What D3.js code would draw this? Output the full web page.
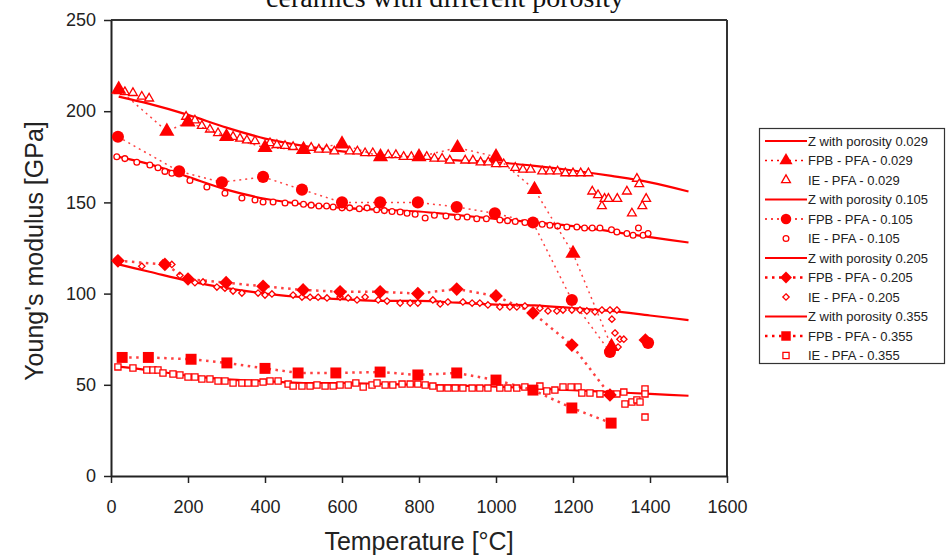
<!DOCTYPE html>
<html lang="en">
<head>
<meta charset="UTF-8">
<title>Young's modulus vs temperature</title>
<script src="https://d3js.org/d3.v7.min.js"></script>
<style>
body { margin: 0; background: white; }
svg { display: block; }
.tick text { font-family: Arial, "Liberation Sans", sans-serif; }
</style>
</head>
<body>
<div id="chart"></div>
<script>
// temperatures for the model curves
var zTemp = [20, 100, 200, 300, 400, 500, 600, 700, 800, 900, 1000, 1100, 1200, 1300, 1400, 1500];
var z029 = [208, 204, 198, 191, 185, 181, 178, 176, 174.5, 173, 172, 170, 167.5, 164.5, 161, 156];
var z105 = [175, 171, 164, 157, 152, 149, 147, 146, 145, 143, 141, 139, 137, 134, 131, 128];
var z205 = [116, 112, 107, 103, 100, 98, 97, 96, 96, 95, 94, 93.5, 92, 90.5, 88, 85.5];
var z355 = [60, 58, 55, 53, 52, 51, 51, 50.5, 50, 49.5, 49, 48, 47, 46, 45, 44];

// FPB - PFA (flexural, filled markers), null = break in the dotted line
var fpb029 = [[20,212],[145,189],[200,194],[300,186],[400,180],[500,179],[600,182],[700,175],[800,175],[900,180],[1000,175],[1100,157],[1200,122],[1300,71]];
var fpb105 = [[18,186],[177,167],[288,161],[395,164],[496,157],[600,150],[699,150],[797,150],[898,147.5],[997,144],[1096,139],[1197,96.5],[1296,68],null,[1395,73]];
var fpb205 = [[18,118],[140,116],[200,108],[299,106],[395,104],[499,102],[595,101],[699,101],[797,100],[898,102.5],[1000,98.7],[1096,89.4],[1197,71.8],[1296,44.4],null,[1388,74.5]];
var fpb355 = [[29,65],[97,65],[208,64],[301,62],[400,59],[486,56.5],[584,56.5],[699,57],[797,55.4],[898,56.5],[1000,52.6],[1096,47.1],[1197,37.3],[1299,29]];

// IE - PFA (impulse excitation, hollow markers)
var ie029 = [[20,211],[36,210.5],[57,210],[80,208],[99,207],[195,197],[218,195],[236,192],[257,190],[278,188],[317,186],[335,185],[353,184],[374,183.6],[413,182.5],[431,181.5],[452,181],[473,180.4],
  [520,180],[540,179],[560,179],[580,178],[620,178],[640,178],[660,177],[680,177],[720,176],[740,176],[760,175],[780,175],[820,175],[840,174],[860,174],[880,173],[920,173],[940,173],[960,172],[980,172],
  [1000,171],[1020,171],[1050,169],[1070,168],[1090,168],[1120,167],[1140,167],[1160,167],[1180,166],[1200,166],[1220,166],[1240,166],
  [1250,156],[1265,154],[1275,148],[1282,152],[1292,152],[1315,152],[1340,156],[1366,163],[1372,160],[1390,152],[1380,148],[1353,144]];
var ie105 = [[15,175],[36,174],[67,172],[101,170.5],[122,169],[140,167],[158,166],[205,162],[249,158.4],[296,155],[340,152.4],[374,151.3],[395,150.2],[421,150.2],[452,149.7],[478,149.7],
  [500,149],[520,148.5],[540,148],[560,148],[577,147.5],[600,147],[620,147],[645,146.5],[665,147],[690,146],[710,145.5],[730,145],[751,144.7],[769,144],[790,143.5],[816,141.4],[840,143],[870,142.5],[900,142],[925,142],
  [950,141],[975,141],[1010,140.3],[1030,140],[1050,139.5],[1075,139],[1096,138.7],[1120,138],[1140,137.5],[1160,137],[1184,136.5],[1210,136.5],[1230,136],[1250,136],[1270,136],[1300,135],[1314,133.8],[1340,133],[1356,132],[1370,136],[1382,132],[1395,133]];
var ie205 = [[18,116.8],[80,115],[135,116.8],[158,116],[179,110],[218,106],[239,106.4],[275,103.6],[296,103],[317,101.4],[340,100.3],[382,100.3],[400,99.2],[418,99.8],[473,99.2],[496,98.1],[517,98],[538,98],[561,97.6],
  [595,98.1],[616,97.6],[639,96.5],[660,98.1],[694,96.5],[717,95.9],[751,94.8],[777,94.8],[797,94.8],[836,96.5],[855,94.3],[875,95.4],[914,95.4],[938,94.8],[958,94.8],[979,93.8],[1010,92.7],[1036,92.7],[1054,92.7],[1075,93.2],
  [1114,92],[1135,90.5],[1158,90.5],[1174,91],[1197,91],[1218,91],[1236,90.5],[1257,90],[1275,91],[1296,91],[1314,91],
  [1301,86],[1309,78.4],[1322,75],[1332,75],[1317,70.7]];
var ie355 = [[18,59.8],[57,59.2],[93,58.1],[109,58.1],[122,58.1],[135,56.5],[161,55.9],[179,55.4],[200,54.3],[218,54.3],[236,53.2],[257,53.2],[278,52.1],[296,52.1],[317,51],[340,51],[356,51],[374,51],[395,51.5],[413,52.1],[434,52.1],
  [460,50.4],[473,49.3],[496,49.3],[517,49.3],[535,49.9],[556,49.3],[577,49.3],[595,49.9],[616,49.9],[636,51],[655,48.8],[678,49.9],[691,51],[712,49.9],[732,49.9],[756,50.4],[777,50.4],[797,50.4],
  [816,49.9],[836,49.3],[855,48.2],[875,48.2],[894,48.2],[914,48.2],[938,48.2],[958,48.2],[979,48.2],[1010,48.2],[1031,48.2],[1054,48.2],[1075,48.8],[1114,49.3],[1132,46.6],[1153,47.1],[1174,48.8],[1195,48.8],[1213,48.8],
  [1223,45.5],[1244,45.5],[1270,45],[1296,45],[1314,45],[1332,46],[1335,39.5],[1353,40.6],[1366,41.7],[1374,40.6],[1387,47.7],[1387,45],[1387,32.3]];

var xTicks = [0, 200, 400, 600, 800, 1000, 1200, 1400, 1600];
var yTicks = [0, 50, 100, 150, 200, 250];

var legendLabels = ["Z with porosity 0.029", "FPB - PFA - 0.029", "IE - PFA - 0.029",
  "Z with porosity 0.105", "FPB - PFA - 0.105", "IE - PFA - 0.105",
  "Z with porosity 0.205", "FPB - PFA - 0.205", "IE - PFA - 0.205",
  "Z with porosity 0.355", "FPB - PFA - 0.355", "IE - PFA - 0.355"];

var W = 946, H = 558;
var red = "#ff0000";

var svg = d3.select("#chart").append("svg")
  .attr("width", W).attr("height", H);

var x = d3.scaleLinear().domain([0, 1600]).range([111, 727]);
var y = d3.scaleLinear().domain([0, 250]).range([476, 20]);

// title, partly cut off at the top as in the source picture
svg.append("text")
  .attr("x", 445).attr("y", 7)
  .attr("text-anchor", "middle")
  .style("font-family", "'Liberation Serif', 'Times New Roman', serif")
  .style("font-size", "28px")
  .attr("fill", "#111")
  .text("ceramics with different porosity");

// frame (top and right)
svg.append("line").attr("x1", x(0)).attr("x2", x(1600)).attr("y1", y(250)).attr("y2", y(250))
  .attr("stroke", "#333").attr("stroke-width", 2);
svg.append("line").attr("x1", x(1600)).attr("x2", x(1600)).attr("y1", y(250)).attr("y2", y(0))
  .attr("stroke", "#333").attr("stroke-width", 2);

// axes
var xAxis = svg.append("g")
  .attr("transform", "translate(0," + y(0) + ")")
  .call(d3.axisBottom(x).tickValues(xTicks).tickFormat(d3.format("d")).tickSize(7).tickPadding(17).tickSizeOuter(0));
var yAxis = svg.append("g")
  .attr("transform", "translate(" + x(0) + ",0)")
  .call(d3.axisLeft(y).tickValues(yTicks).tickFormat(d3.format("d")).tickSize(7).tickPadding(8).tickSizeOuter(0));
[xAxis, yAxis].forEach(function(a) {
  a.select(".domain").attr("stroke", "#222").attr("stroke-width", 2);
  a.selectAll(".tick line").attr("stroke", "#222").attr("stroke-width", 1.5);
  a.selectAll(".tick text").attr("fill", "#222").style("font-size", "18px");
});

svg.append("text")
  .attr("transform", "translate(43,251) rotate(-90)")
  .attr("text-anchor", "middle")
  .style("font-family", "Arial, 'Liberation Sans', sans-serif")
  .style("font-size", "25px")
  .attr("fill", "#222")
  .text("Young's modulus [GPa]");
svg.append("text")
  .attr("x", 419).attr("y", 550)
  .attr("text-anchor", "middle")
  .style("font-family", "Arial, 'Liberation Sans', sans-serif")
  .style("font-size", "25px")
  .attr("fill", "#222")
  .text("Temperature [°C]");

// model curves
var zLine = d3.line()
  .x(function(d, i) { return x(zTemp[i]); })
  .y(function(d) { return y(d); })
  .curve(d3.curveMonotoneX);
[z029, z105, z205, z355].forEach(function(s) {
  svg.append("path").datum(s)
    .attr("d", zLine)
    .attr("fill", "none").attr("stroke", red).attr("stroke-width", 2.2);
});

var ptLine = d3.line()
  .defined(function(d) { return d != null; })
  .x(function(d) { return x(d[0]); })
  .y(function(d) { return y(d[1]); });

var groups = [
  { fpb: fpb029, ie: ie029, sym: d3.symbolTriangle, big: 100, small: 34, dash: "2,4", dw: 1.5 },
  { fpb: fpb105, ie: ie105, sym: d3.symbolCircle, big: 115, small: 26, dash: "2,4", dw: 1.5 },
  { fpb: fpb205, ie: ie205, sym: d3.symbolDiamond2, big: 120, small: 26, dash: "2.5,4.5", dw: 2.5 },
  { fpb: fpb355, ie: ie355, sym: d3.symbolSquare, big: 120, small: 38, dash: "2.5,4.5", dw: 2.5 }
];

// IE hollow markers
groups.forEach(function(g) {
  svg.append("g").selectAll("path").data(g.ie).join("path")
    .attr("transform", function(d) { return "translate(" + x(d[0]) + "," + y(d[1]) + ")"; })
    .attr("d", d3.symbol().type(g.sym).size(g.small))
    .attr("fill", "white").attr("stroke", red).attr("stroke-width", 1.3);
});

// FPB dotted lines and filled markers
groups.forEach(function(g) {
  svg.append("path").datum(g.fpb)
    .attr("d", ptLine)
    .attr("fill", "none").attr("stroke", red).attr("stroke-opacity", 0.75)
    .attr("stroke-width", g.dw).attr("stroke-dasharray", g.dash);
  svg.append("g").selectAll("path").data(g.fpb.filter(function(d) { return d != null; })).join("path")
    .attr("transform", function(d) { return "translate(" + x(d[0]) + "," + y(d[1]) + ")"; })
    .attr("d", d3.symbol().type(g.sym).size(g.big))
    .attr("fill", red);
});

// legend
var lg = svg.append("g");
lg.append("rect")
  .attr("x", 759.5).attr("y", 128.5).attr("width", 185).attr("height", 235)
  .attr("fill", "white").attr("stroke", "#333").attr("stroke-width", 1.2);
legendLabels.forEach(function(lab, i) {
  var yy = 141 + i * 19.5;
  var g = groups[Math.floor(i / 3)];
  var kind = i % 3;
  if (kind === 0) {
    lg.append("line").attr("x1", 765).attr("x2", 807).attr("y1", yy).attr("y2", yy)
      .attr("stroke", red).attr("stroke-width", 2.2);
  } else if (kind === 1) {
    lg.append("line").attr("x1", 765).attr("x2", 807).attr("y1", yy).attr("y2", yy)
      .attr("stroke", red).attr("stroke-width", g.dw).attr("stroke-dasharray", g.dash);
    lg.append("path").attr("transform", "translate(786," + yy + ")")
      .attr("d", d3.symbol().type(g.sym).size(g.big * 0.75)).attr("fill", red);
  } else {
    lg.append("path").attr("transform", "translate(786," + yy + ")")
      .attr("d", d3.symbol().type(g.sym).size(g.small)).attr("fill", "white")
      .attr("stroke", red).attr("stroke-width", 1.3);
  }
  lg.append("text").attr("x", 808).attr("y", yy + 4.5)
    .style("font-family", "Arial, 'Liberation Sans', sans-serif")
    .style("font-size", "13px").attr("fill", "#222")
    .text(lab);
});
</script>
</body>
</html>
